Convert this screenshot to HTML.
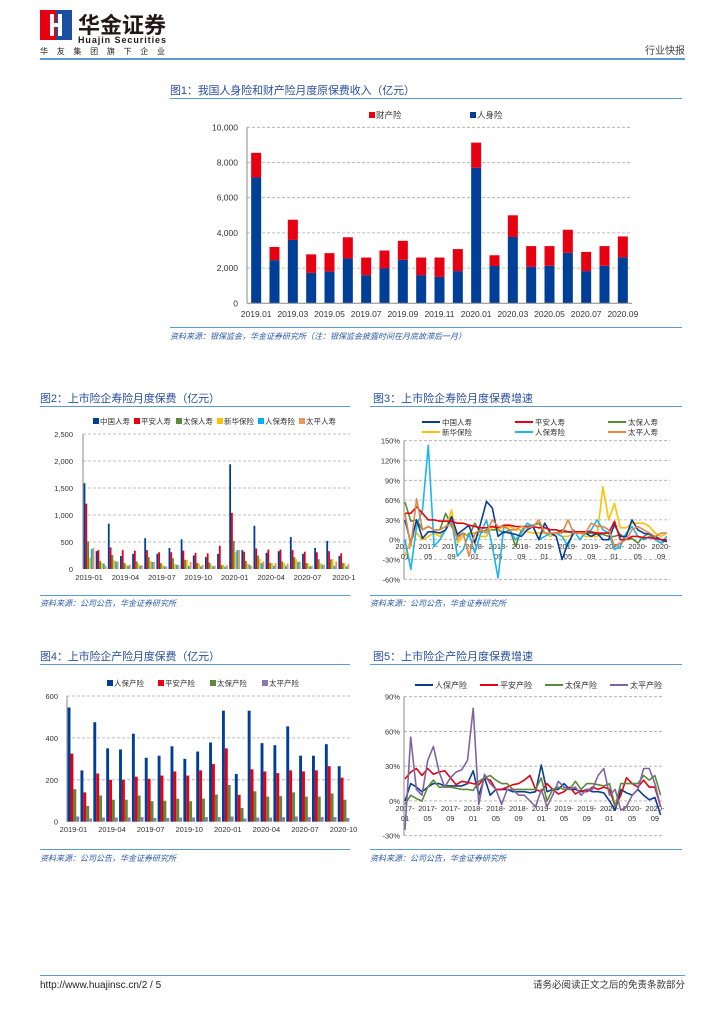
<!DOCTYPE html>
<html><head><meta charset="utf-8">
<style>
html,body{margin:0;padding:0;background:#fff;}
svg{display:block;font-family:"Liberation Sans","Noto Sans CJK SC",sans-serif;}
</style></head>
<body>
<svg id="page" width="724" height="1024" viewBox="0 0 724 1024" xmlns="http://www.w3.org/2000/svg">
<g>
  <rect x="40" y="10" width="16" height="30" fill="#e60012"/>
  <rect x="56" y="10" width="16" height="30" fill="#1a4fa0"/>
  <rect x="50" y="14" width="4" height="22" fill="#fff"/>
  <rect x="58" y="14" width="4" height="22" fill="#fff"/>
  <rect x="52" y="23" width="8" height="4" fill="#fff"/>
  <text x="78" y="33" font-size="22" font-weight="bold" fill="#231815" textLength="88">华金证券</text>
  <text x="78" y="43" font-size="9" font-weight="bold" fill="#231815" textLength="88">Huajin Securities</text>
  <text x="40" y="54" font-size="8" fill="#231815" textLength="125">华友集团旗下企业</text>
  <text x="685" y="54" font-size="10" fill="#444" text-anchor="end">行业快报</text>
  <rect x="40" y="58" width="645" height="2" fill="#5b9bd5"/>
</g>
<g>
  <rect x="40" y="975" width="645" height="1" fill="#5b9bd5"/>
  <text x="40" y="988" font-size="10" fill="#222">http://www.huajinsc.cn/2 / 5</text>
  <text x="685" y="988" font-size="9.5" fill="#333" text-anchor="end">请务必阅读正文之后的免责条款部分</text>
</g>
<g id="charts"></g>
</svg>
<script>
// ---------- Chart 1 data ----------
const c1Months = ["2019.01","2019.02","2019.03","2019.04","2019.05","2019.06","2019.07","2019.08","2019.09","2019.10","2019.11","2019.12","2020.01","2020.02","2020.03","2020.04","2020.05","2020.06","2020.07","2020.08","2020.09"];
const c1Life = [7150,2450,3600,1730,1800,2550,1600,1980,2470,1600,1500,1830,7700,2120,3770,2070,2130,2870,1830,2130,2620];
const c1Prop = [1400,750,1150,1050,1050,1200,1000,1020,1080,1000,1100,1250,1430,610,1230,1180,1120,1310,1090,1120,1180];
const c1Ticks = [0,2000,4000,6000,8000,10000];
const c1TickLabels = ["0","2,000","4,000","6,000","8,000","10,000"];
// ---------- Chart 2 data ----------
const c2Months = ["2019-01","2019-02","2019-03","2019-04","2019-05","2019-06","2019-07","2019-08","2019-09","2019-10","2019-11","2019-12","2020-01","2020-02","2020-03","2020-04","2020-05","2020-06","2020-07","2020-08","2020-09","2020-10"];
const c2Names = ["中国人寿","平安人寿","太保人寿","新华保险","人保寿险","太平人寿"];
const c2ChinaLife = [1590,330,840,240,280,570,280,390,550,250,220,280,1940,350,800,300,330,590,280,390,520,240];
const c2PingAn = [1210,350,400,350,340,350,310,310,340,300,290,430,1040,320,380,360,360,350,320,310,330,290];
const c2Pacific = [510,150,260,110,140,220,110,200,170,110,120,70,520,150,250,110,140,220,110,180,180,110];
const c2NewChina = [210,110,160,80,100,150,80,90,170,100,80,80,310,100,190,110,110,180,100,110,180,110];
const c2Picc = [370,100,140,60,60,130,50,80,60,50,50,40,350,80,110,60,60,130,50,80,60,50];
const c2Taiping = [390,60,140,80,70,130,50,70,130,80,60,70,350,60,140,110,100,140,60,80,140,90];
const c2Ticks = [0,500,1000,1500,2000,2500];
const c2TickLabels = ["0","500","1,000","1,500","2,000","2,500"];
const c2LabelIdx = [0,3,6,9,12,15,18,21];
const c2LabelText = ["2019-01","2019-04","2019-07","2019-10","2020-01","2020-04","2020-07","2020-1"];
// ---------- Chart 3 data ----------
const c3Names = ["中国人寿","平安人寿","太保人寿","新华保险","人保寿险","太平人寿"];
const c3ChinaLife = [30,-5,30,2,12,12,10,15,35,8,15,22,-5,25,58,48,5,12,10,8,5,15,20,0,25,10,5,-30,-5,10,12,10,5,10,0,0,23,5,5,30,15,10,8,5,0,-3];
const c3PingAn = [40,40,50,40,30,30,28,28,28,25,25,22,20,18,18,20,18,22,22,20,20,20,20,18,18,15,15,12,12,12,12,12,12,10,10,10,28,0,0,5,5,3,3,2,0,0];
const c3Pacific = [57,28,30,15,20,15,15,40,20,5,10,5,25,10,15,15,15,10,15,-10,15,20,22,25,10,5,10,15,12,10,10,10,10,8,8,5,5,8,0,2,-5,5,10,0,-5,0];
const c3NewChina = [-25,0,10,0,5,10,5,15,45,-5,5,10,10,5,5,20,15,20,20,15,15,12,10,10,10,5,10,5,5,10,10,5,5,5,80,30,55,18,18,25,25,25,20,10,5,10];
const c3Picc = [0,-45,20,45,143,-10,0,15,30,-25,-15,10,-20,10,30,-10,-58,20,15,0,10,25,20,0,5,10,10,5,-10,15,0,10,15,30,15,10,-15,-10,10,20,5,0,5,0,-5,5];
const c3Taiping = [40,-10,62,15,20,15,15,20,25,0,10,-25,10,15,10,30,20,20,15,15,20,18,20,30,10,10,10,10,30,10,10,10,25,20,20,15,-10,-5,0,15,20,15,10,5,10,10];
const c3Ticks = [-60,-30,0,30,60,90,120,150];
const c3TickLabels = ["-60%","-30%","0%","30%","60%","90%","120%","150%"];
const c3LabelYear = ["2017-","2017-","2017-","2018-","2018-","2018-","2019-","2019-","2019-","2020-","2020-","2020-"];
const c3LabelMonth = ["01","05","09","01","05","09","01","05","09","01","05","09"];
// ---------- Chart 4 data ----------
const c4Names = ["人保产险","平安产险","太保产险","太平产险"];
const c4Picc = [545,245,475,350,345,420,305,315,360,300,335,378,530,228,530,375,365,455,315,315,370,265];
const c4PingAn = [325,140,230,200,200,215,205,220,240,220,245,275,350,128,250,240,232,245,240,245,265,210];
const c4Pacific = [155,75,125,105,105,125,98,100,110,98,110,130,175,65,145,120,122,140,120,120,135,105];
const c4Taiping = [25,15,20,20,20,22,18,18,20,20,22,22,25,15,20,20,22,25,22,22,22,18];
const c4Ticks = [0,200,400,600];
const c4TickLabels = ["0","200","400","600"];
const c4LabelText = ["2019-01","2019-04","2019-07","2019-10","2020-01","2020-04","2020-07","2020-10"];
// ---------- Chart 5 data ----------
const c5Names = ["人保产险","平安产险","太保产险","太平产险"];
const c5Picc = [0,15,12,8,12,15,15,13,13,13,13,15,26,5,20,5,10,10,10,8,8,8,7,8,31,8,10,10,15,10,10,8,10,8,8,7,0,-8,10,7,5,10,5,1,3,-12];
const c5PingAn = [19,25,28,22,28,23,25,26,20,14,17,16,15,14,20,18,10,10,12,14,15,18,22,10,8,15,10,6,8,12,6,9,8,12,10,12,10,-5,5,20,15,12,18,12,12,-5];
const c5Pacific = [-3,5,2,0,12,18,12,12,12,11,10,10,9,17,20,22,18,15,15,10,10,10,10,10,20,0,10,12,10,10,17,10,15,15,14,13,15,-5,15,15,15,15,22,18,22,5];
const c5Taiping = [-25,55,10,5,35,47,25,12,20,25,27,35,80,-3,23,15,10,-3,10,10,5,5,0,-5,10,-5,5,17,12,10,12,5,10,10,22,28,5,10,-8,-5,5,10,28,28,15,-5];
const c5Ticks = [-30,0,30,60,90];
const c5TickLabels = ["-30%","0%","30%","60%","90%"];
const c5LabelYear = ["2017-","2017-","2017-","2018-","2018-","2018-","2019-","2019-","2019-","2020-","2020-","2020-"];
const c5LabelMonth = ["01","05","09","01","05","09","01","05","09","01","05","09"];

const NS = "http://www.w3.org/2000/svg";
const root = document.getElementById("charts");
function mk(tag, attrs, parent) {
  const e = document.createElementNS(NS, tag);
  for (const k in attrs) e.setAttribute(k, attrs[k]);
  (parent || root).appendChild(e);
  return e;
}
function txt(str, attrs, parent) {
  const e = mk("text", attrs, parent);
  e.textContent = str;
  return e;
}
const TITLE = "#2a4f9e", SRC = "#2a5aa8", LINE = "#5b9bd5", AX = "#333", GRID = "#aaa";

function frame(g, title, tx, ty, tlen, x0, x1, lineY, srcLineY, srcY, srcText) {
  const t = txt(title, {x: tx, y: ty, "font-size": 11, fill: TITLE, textLength: tlen}, g);
  
  
  const l = mk("rect", {x: x0, y: lineY, width: x1 - x0, height: 1, fill: LINE}, g);
  
  
  const l2 = mk("rect", {x: x0, y: srcLineY, width: x1 - x0, height: 1, fill: LINE}, g);
  
  
  const s = txt(srcText, {x: x0, y: srcY, "font-size": 8, fill: SRC, "font-style": "italic"}, g);
  
  
}
function yaxis(g, ticks, labels, yf, ax, x1, lx, fs) {
  ticks.forEach((v, i) => {
    if (i > 0 || v !== 0) {
      const gl = mk("line", {x1: ax, x2: x1, y1: yf(v), y2: yf(v), stroke: GRID, "stroke-width": 0.8, "stroke-dasharray": "3,2"}, g);
      
      
    }
    const tl = txt(labels[i], {x: lx, y: yf(v) + 3, "font-size": fs, fill: AX, "text-anchor": "end"}, g);
    
    
  });
}
function legendBox(g, x, y, color, label, fs) {
  const r = mk("rect", {x: x, y: y - 6, width: 6, height: 6, fill: color}, g);
  
  
  const t = txt(label, {x: x + 7, y: y, "font-size": fs, fill: AX}, g);
  
  
}
function legendLine(g, x, y, color, label, fs) {
  const r = mk("line", {x1: x, x2: x + 18, y1: y - 3, y2: y - 3, stroke: color, "stroke-width": 2}, g);
  
  
  const t = txt(label, {x: x + 20, y: y, "font-size": fs, fill: AX}, g);
  
  
}
function polyline(g, data, xf, yf, color, name) {
  const p = mk("polyline", {points: data.map((v, i) => xf(i).toFixed(1) + "," + yf(v).toFixed(1)).join(" "), fill: "none", stroke: color, "stroke-width": 1.6, "stroke-linejoin": "round"}, g);
  
  
}

// ===== Chart 1 =====
(function(){
  const g = mk("g", {});
  
  
  frame(g, "图1：我国人身险和财产险月度原保费收入（亿元）", 170, 94, 245, 170, 682, 98, 327, 339, "资料来源：银保监会，华金证券研究所（注：银保监会披露时间在月底故滞后一月）");
  const ax = 247, x1 = 632, y0 = 303.3, yTop = 127.3;
  const yf = v => y0 - v / 10000 * (y0 - yTop);
  const bw = (x1 - ax) / c1Months.length;
  const xf = i => ax + (i + 0.5) * bw;
  yaxis(g, c1Ticks, c1TickLabels, yf, ax, x1, 238, 8.5);
  c1Months.forEach((m, i) => {
    const a = mk("rect", {x: xf(i) - 5, y: yf(c1Life[i]), width: 10, height: y0 - yf(c1Life[i]), fill: "#003f98"}, g);
    
    
    const b = mk("rect", {x: xf(i) - 5, y: yf(c1Life[i] + c1Prop[i]), width: 10, height: yf(c1Life[i]) - yf(c1Life[i] + c1Prop[i]), fill: "#e60012"}, g);
    
    
    if (i % 2 === 0) {
      const t = txt(m, {x: xf(i), y: 317, "font-size": 8.5, fill: AX, "text-anchor": "middle"}, g);
      
      
    }
  });
  const axl = mk("line", {x1: ax, x2: ax, y1: yTop, y2: y0, stroke: "#888"}, g);
  
  
  const bl = mk("line", {x1: ax, x2: x1, y1: y0, y2: y0, stroke: "#888"}, g);
  
  
  legendBox(g, 369, 118, "#e60012", "财产险", 8.5);
  legendBox(g, 470, 118, "#003f98", "人身险", 8.5);
})();

// ===== Chart 2 =====
(function(){
  const g = mk("g", {});
  
  
  frame(g, "图2：上市险企寿险月度保费（亿元）", 40, 402, 180, 40, 350, 406, 595, 606, "资料来源：公司公告，华金证券研究所");
  const ax = 83, x1 = 350, y0 = 569, yTop = 434;
  const yf = v => y0 - v / 2500 * (y0 - yTop);
  const gw = (x1 - ax) / c2Months.length;
  yaxis(g, c2Ticks, c2TickLabels, yf, ax, x1, 73, 7.5);
  const series = [c2ChinaLife, c2PingAn, c2Pacific, c2NewChina, c2Picc, c2Taiping];
  const colors = ["#003f98", "#e60012", "#5a8a3a", "#ffc000", "#00b0f0", "#f0955a"];
  c2Months.forEach((m, i) => {
    series.forEach((s, k) => {
      const r = mk("rect", {x: ax + i * gw + 0.6 + k * 1.8, y: yf(s[i]), width: 1.8, height: y0 - yf(s[i]), fill: colors[k]}, g);
      
      
    });
  });
  c2LabelIdx.forEach((idx, j) => {
    const t = txt(c2LabelText[j], {x: ax + (idx + 0.5) * gw, y: 580, "font-size": 7.5, fill: AX, "text-anchor": "middle"}, g);
    
    
  });
  const axl = mk("line", {x1: ax, x2: ax, y1: yTop, y2: y0, stroke: "#888"}, g);
  
  
  const lx = [93, 134, 176, 217, 258, 299];
  c2Names.forEach((n, k) => legendBox(g, lx[k], 424, colors[k], n, 7.5));
})();

// ===== Chart 3 =====
(function(){
  const g = mk("g", {});
  
  
  frame(g, "图3：上市险企寿险月度保费增速", 373, 402, 160, 370, 682, 406, 595, 606, "资料来源：公司公告，华金证券研究所");
  const ax = 404, x1 = 670, yTop = 440.7, yBot = 579.3;
  const yf = v => yTop + (150 - v) / 210 * (yBot - yTop);
  const xf = i => 405 + i * 5.82;
  yaxis(g, c3Ticks, c3TickLabels, yf, ax, x1, 400, 7.5);
  const axl = mk("line", {x1: ax, x2: ax, y1: yTop, y2: yBot, stroke: "#888"}, g);
  
  
  c3LabelYear.forEach((y, j) => {
    const t1 = txt(y, {x: xf(j * 4), y: 549, "font-size": 7.5, fill: AX, "text-anchor": "middle"}, g);
    
    
    const t2 = txt(c3LabelMonth[j], {x: xf(j * 4), y: 559, "font-size": 7.5, fill: AX, "text-anchor": "middle"}, g);
    
    
  });
  const series = [c3ChinaLife, c3PingAn, c3Pacific, c3NewChina, c3Picc, c3Taiping];
  const colors = ["#0b3d91", "#e60012", "#5a8a3a", "#ffc000", "#1eb4ee", "#e0874a"];
  const order = [2, 3, 4, 0, 1, 5];
  order.forEach(k => polyline(g, series[k], xf, yf, colors[k], "line-life-growth"));
  const lx = [422, 515, 608];
  c3Names.forEach((n, k) => legendLine(g, lx[k % 3], k < 3 ? 425 : 435, colors[k], n, 7.5));
})();

// ===== Chart 4 =====
(function(){
  const g = mk("g", {});
  
  
  frame(g, "图4：上市险企产险月度保费（亿元）", 40, 660, 180, 40, 350, 664, 849, 861, "资料来源：公司公告，华金证券研究所");
  const ax = 67, x1 = 350, y0 = 821.7, yTop = 696;
  const yf = v => y0 - v / 600 * (y0 - yTop);
  const gw = (x1 - ax) / c2Months.length;
  yaxis(g, c4Ticks, c4TickLabels, yf, ax, x1, 58, 7.5);
  const series = [c4Picc, c4PingAn, c4Pacific, c4Taiping];
  const colors = ["#003f98", "#e60012", "#5a8a3a", "#8a78b5"];
  c2Months.forEach((m, i) => {
    series.forEach((s, k) => {
      const r = mk("rect", {x: ax + i * gw + 0.6 + k * 2.9, y: yf(s[i]), width: 2.9, height: y0 - yf(s[i]), fill: colors[k]}, g);
      
      
    });
  });
  c4LabelText.forEach((l, j) => {
    const t = txt(l, {x: ax + (j * 3 + 0.5) * gw, y: 832, "font-size": 7.5, fill: AX, "text-anchor": "middle"}, g);
    
    
  });
  const axl = mk("line", {x1: ax, x2: ax, y1: yTop, y2: y0, stroke: "#888"}, g);
  
  
  const lx = [107, 158, 210, 262];
  c4Names.forEach((n, k) => legendBox(g, lx[k], 686, colors[k], n, 7.5));
})();

// ===== Chart 5 =====
(function(){
  const g = mk("g", {});
  
  
  frame(g, "图5：上市险企产险月度保费增速", 373, 660, 160, 370, 682, 664, 849, 861, "资料来源：公司公告，华金证券研究所");
  const ax = 404, x1 = 663, yTop = 696.7, yBot = 835.7;
  const yf = v => yTop + (90 - v) / 120 * (yBot - yTop);
  const xf = i => 405 + i * 5.68;
  yaxis(g, c5Ticks, c5TickLabels, yf, ax, x1, 400, 7.5);
  const axl = mk("line", {x1: ax, x2: ax, y1: yTop, y2: yBot, stroke: "#888"}, g);
  
  
  c5LabelYear.forEach((y, j) => {
    const t1 = txt(y, {x: xf(j * 4), y: 811, "font-size": 7.5, fill: AX, "text-anchor": "middle"}, g);
    
    
    const t2 = txt(c5LabelMonth[j], {x: xf(j * 4), y: 821, "font-size": 7.5, fill: AX, "text-anchor": "middle"}, g);
    
    
  });
  const series = [c5Picc, c5PingAn, c5Pacific, c5Taiping];
  const colors = ["#0b3d91", "#e60012", "#5a8a3a", "#8064a2"];
  series.forEach((s, k) => polyline(g, s, xf, yf, colors[k], "line-pc-growth"));
  const lx = [415, 480, 545, 610];
  c5Names.forEach((n, k) => legendLine(g, lx[k], 688, colors[k], n, 8));
})();
</script>
</body></html>
